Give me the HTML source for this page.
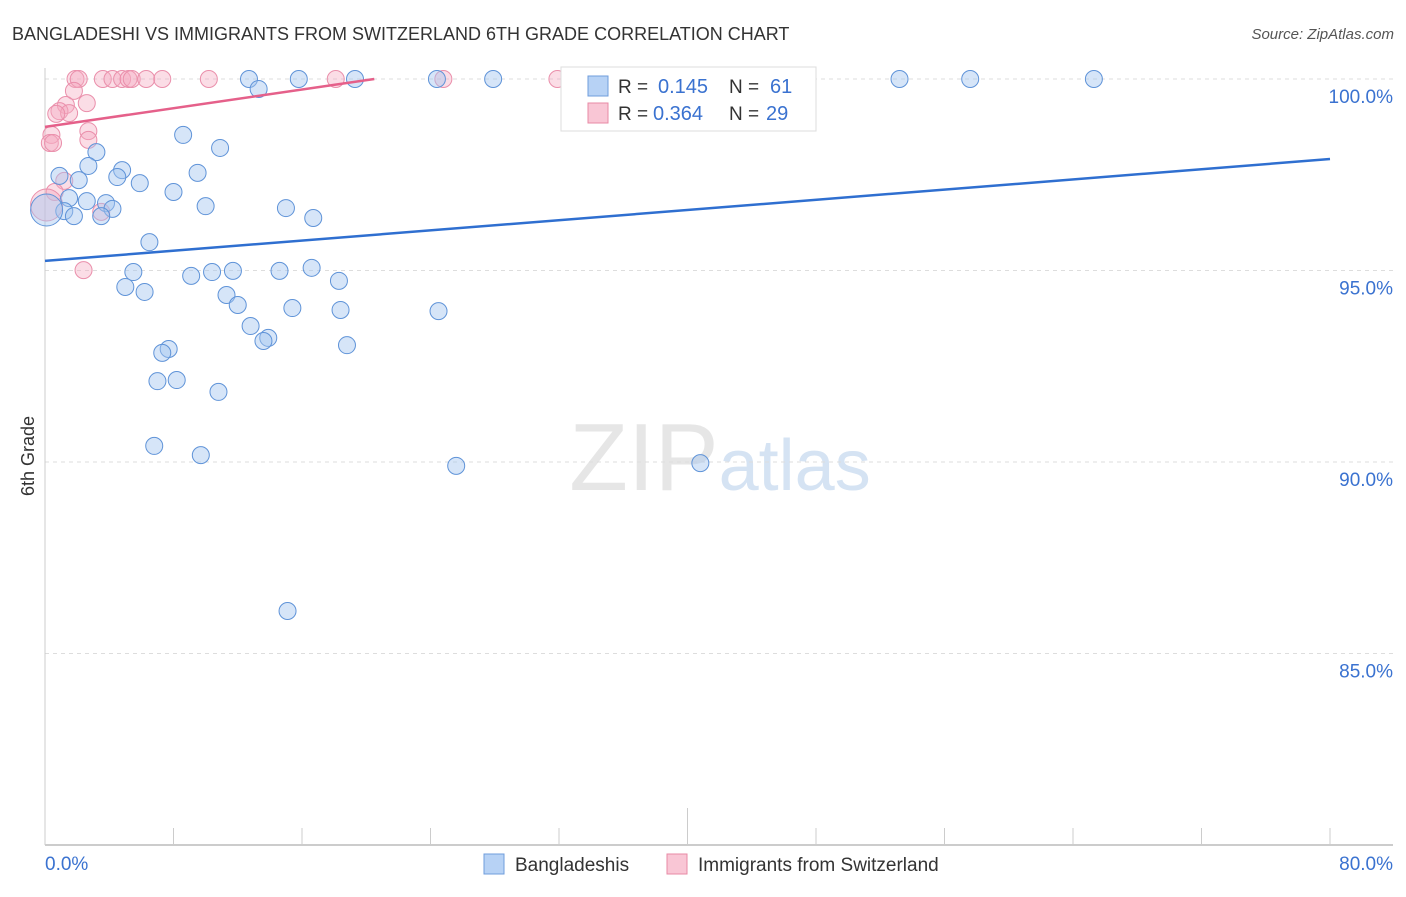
<!DOCTYPE html>
<html><head><meta charset="utf-8"><style>
body{margin:0;background:#fff;font-family:"Liberation Sans",sans-serif;}
svg text{font-family:"Liberation Sans",sans-serif;}
</style></head><body>
<svg id="chart" width="1406" height="892" viewBox="0 0 1406 892" xmlns="http://www.w3.org/2000/svg">
<text x="12" y="40" font-size="18" fill="#333">BANGLADESHI VS IMMIGRANTS FROM SWITZERLAND 6TH GRADE CORRELATION CHART</text>
<text x="1394" y="39" font-size="15" fill="#555" text-anchor="end" font-style="italic">Source: ZipAtlas.com</text>
<text x="720" y="490" font-size="96" text-anchor="middle" fill="#e6e6e6" font-family="Liberation Serif">ZIP<tspan fill="#d5e3f3" font-family="Liberation Sans" font-size="72">atlas</tspan></text>
<text transform="translate(34,456) rotate(-90)" font-size="18" fill="#333" text-anchor="middle">6th Grade</text>
<g id="grid"></g>
<g id="axes"></g>
<g id="pinkpts"></g>
<g id="bluepts"></g>
<g id="trends"></g>
<g>
<rect x="561" y="67" width="255" height="64" fill="#fff" stroke="#ddd"/>
<rect x="588" y="76" width="20" height="20" fill="#b7d2f5" stroke="#6f9ddc"/>
<text x="618" y="93" font-size="19" fill="#333">R = </text><text x="658" y="93" font-size="20" fill="#3a72d0">0.145</text>
<text x="729" y="93" font-size="19" fill="#333">N = </text><text x="770" y="93" font-size="20" fill="#3a72d0">61</text>
<rect x="588" y="103" width="20" height="20" fill="#f9c6d5" stroke="#e88aa5"/>
<text x="618" y="120" font-size="19" fill="#333">R = </text><text x="653" y="120" font-size="20" fill="#3a72d0">0.364</text>
<text x="729" y="120" font-size="19" fill="#333">N = </text><text x="766" y="120" font-size="20" fill="#3a72d0">29</text>
</g>
<g>
<rect x="484" y="854" width="20" height="20" fill="#b7d2f5" stroke="#6f9ddc"/>
<text x="515" y="871" font-size="19" fill="#333">Bangladeshis</text>
<rect x="667" y="854" width="20" height="20" fill="#f9c6d5" stroke="#e88aa5"/>
<text x="698" y="871" font-size="19" fill="#333">Immigrants from Switzerland</text>
</g>
</svg>
<script>
const blueX=[12.7,15.8,19.3,24.4,27.9,53.2,57.6,65.3,13.3,8.6,10.9,3.2,2.7,4.8,4.5,0.9,2.1,5.9,8.0,9.5,1.5,2.6,3.8,4.2,10.0,1.2,1.8,3.5,15.0,16.7,0.1,6.5,5.5,9.1,10.4,11.7,14.6,16.6,18.3,5.0,6.2,11.3,12.0,15.4,18.4,24.5,12.8,13.9,13.6,18.8,7.7,7.3,7.0,8.2,10.8,6.8,9.7,25.6,40.8,15.1];
const blueY=[100,100,100,100,100,100,100,100,99.74,98.54,98.2,98.09,97.73,97.62,97.44,97.47,97.36,97.28,97.05,97.55,96.89,96.81,96.76,96.61,96.68,96.55,96.42,96.42,96.63,96.37,96.58,95.74,94.96,94.86,94.96,94.99,94.99,95.07,94.73,94.57,94.44,94.36,94.1,94.02,93.97,93.94,93.55,93.24,93.16,93.05,92.95,92.85,92.11,92.14,91.83,90.42,90.18,89.9,89.97,86.11];
const pinkX=[1.9,2.1,3.6,4.2,4.8,5.2,5.4,6.3,7.3,10.2,18.1,24.8,31.9,1.8,1.3,0.9,2.6,1.5,0.7,0.4,2.7,2.7,0.3,0.5,1.2,0.6,3.5,2.4,0.1];
const pinkY=[100,100,100,100,100,100,100,100,100,100,100,100,100,99.69,99.32,99.16,99.37,99.11,99.09,98.54,98.64,98.41,98.33,98.33,97.34,97.05,96.53,95.01,96.71];
const blueTrend=[95.25,97.91];
const pinkTrend=[98.75,100];
const pinkTrendEnd=20.5;
const yTicks=[100,95,90,85];
const yTickLabels=["100.0%","95.0%","90.0%","85.0%"];
const xTickLabels=["0.0%","80.0%"];
const NS="http://www.w3.org/2000/svg";
const X=v=>45+v/80*1285;
const Y=v=>79+(100-v)*38.3;
function mk(tag,attrs,parent){const e=document.createElementNS(NS,tag);for(const k in attrs)e.setAttribute(k,attrs[k]);parent.appendChild(e);return e;}
const grid=document.getElementById('grid'),axes=document.getElementById('axes');
yTicks.forEach((t,i)=>{
  const l=mk('line',{x1:45,x2:1393,y1:Y(t),y2:Y(t),stroke:'#ddd','stroke-dasharray':'4,4'},grid);
  
  
  const tx=mk('text',{x:1393,y:Y(t)+24,'font-size':19,fill:'#3a72d0','text-anchor':'end'},axes);
  tx.textContent=yTickLabels[i];
  
  
});
const xa=mk('line',{x1:45,x2:1393,y1:845,y2:845,stroke:'#bbb','stroke-width':1.5},axes);


const ya=mk('line',{x1:45,x2:45,y1:68,y2:845,stroke:'#ccc'},axes);


for(let i=0;i<=10;i++){
  const tk=mk('line',{x1:X(i*8),x2:X(i*8),y1:i==5?808:828,y2:845,stroke:'#ccc'},axes);
  
  
}
const xl0=mk('text',{x:45,y:870,'font-size':19,fill:'#3a72d0'},axes);xl0.textContent=xTickLabels[0];


const xl1=mk('text',{x:1393,y:870,'font-size':19,fill:'#3a72d0','text-anchor':'end'},axes);xl1.textContent=xTickLabels[1];


const pg=document.getElementById('pinkpts');
pinkX.forEach((x,i)=>{
  const c=mk('circle',{cx:X(x),cy:Y(pinkY[i]),r:i==pinkX.length-1?16:8.5,fill:'rgba(245,170,192,0.4)',stroke:'#ea8fab','stroke-width':1},pg);
  
  
});
const bg=document.getElementById('bluepts');
blueX.forEach((x,i)=>{
  const c=mk('circle',{cx:X(x),cy:Y(blueY[i]),r:i==30?16:8.5,fill:'rgba(165,198,240,0.45)',stroke:'#5f93d8','stroke-width':1},bg);
  
  
});
const tg=document.getElementById('trends');
const bt=mk('line',{x1:X(0),y1:Y(blueTrend[0]),x2:X(80),y2:Y(blueTrend[1]),stroke:'#2f6fd0','stroke-width':2.5},tg);


const pt=mk('line',{x1:X(0),y1:Y(pinkTrend[0]),x2:X(pinkTrendEnd),y2:Y(pinkTrend[1]),stroke:'#e5608a','stroke-width':2.5},tg);


</script>
</body></html>
